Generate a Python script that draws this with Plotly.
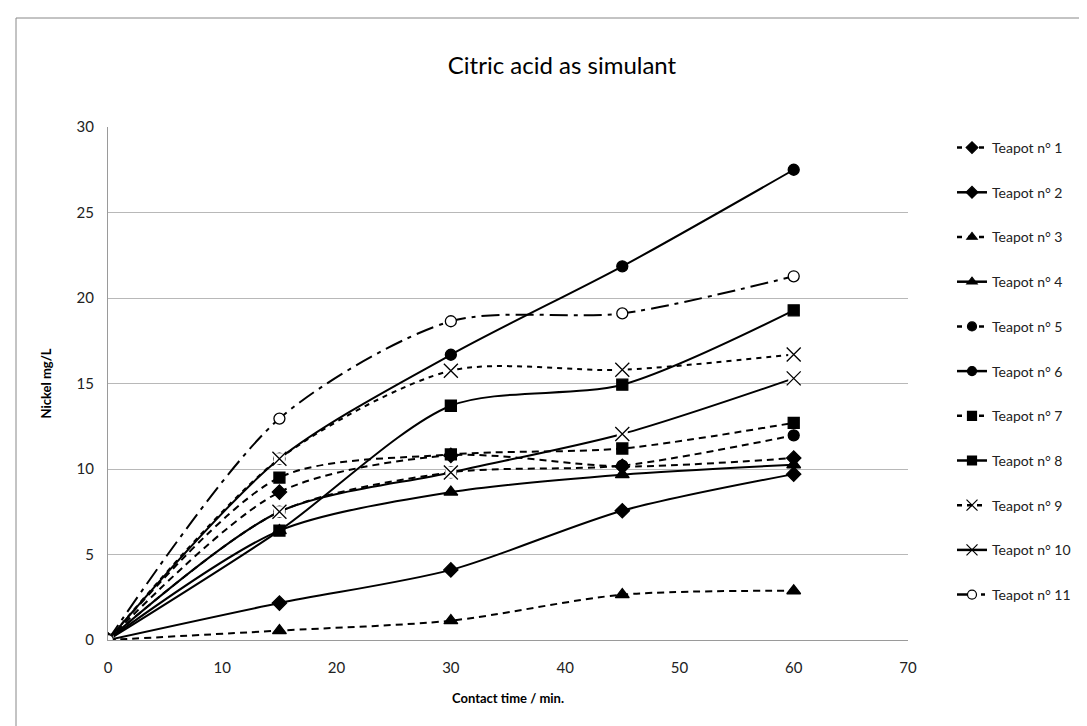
import plotly.graph_objects as go

contact_time = [0, 15, 30, 45, 60]
teapot_names = [f"Teapot n° {i}" for i in range(1, 12)]
teapot_1 = [0, 8.65, 10.8, 10.15, 10.64]
teapot_2 = [0, 2.16, 4.1, 7.56, 9.7]
teapot_3 = [0, 0.55, 1.13, 2.65, 2.88]
teapot_4 = [0, 6.4, 8.65, 9.67, 10.25]
teapot_5 = [0, 7.5, 9.8, 10.2, 11.97]
teapot_6 = [0, 10.6, 16.68, 21.85, 27.5]
teapot_7 = [0, 9.5, 10.85, 11.2, 12.7]
teapot_8 = [0, 6.4, 13.7, 14.93, 19.28]
teapot_9 = [0, 10.6, 15.75, 15.8, 16.7]
teapot_10 = [0, 7.5, 9.8, 12.05, 15.3]
teapot_11 = [0, 12.95, 18.64, 19.1, 21.27]
series = [teapot_1, teapot_2, teapot_3, teapot_4, teapot_5, teapot_6,
          teapot_7, teapot_8, teapot_9, teapot_10, teapot_11]

DASH = "7px,5px"
styles = [
    (DASH, "diamond", 11, "black"),
    ("solid", "diamond", 11, "black"),
    (DASH, "triangle-up", 12, "black"),
    ("solid", "triangle-up", 12, "black"),
    (DASH, "circle", 11, "black"),
    ("solid", "circle", 11, "black"),
    (DASH, "square", 11, "black"),
    ("solid", "square", 11, "black"),
    ("5px,5px", "x-thin-open", 14, "black"),
    ("solid", "x-thin-open", 14, "black"),
    ("18px,6px,4px,6px", "circle", 11, "white"),
]

fig = go.Figure()
for name, ys, (dash, sym, size, fill) in zip(teapot_names, series, styles):
    fig.add_trace(go.Scatter(
        x=contact_time, y=ys, name=name, mode="lines",
        legendgroup=name, showlegend=False, hoverinfo="skip",
        line=dict(color="black", width=2, dash=dash, shape="spline", smoothing=0.8),
    ))
    if sym == "x-thin-open":
        # Excel's X marker is drawn on an opaque white box
        fig.add_trace(go.Scatter(
            x=contact_time, y=ys, mode="markers", legendgroup=name,
            showlegend=False, hoverinfo="skip",
            marker=dict(symbol="square", size=11, color="white",
                        line=dict(width=0)),
        ))
    fig.add_trace(go.Scatter(
        x=contact_time, y=ys, name=name, mode="markers",
        legendgroup=name, showlegend=False,
        marker=dict(symbol=sym, size=size, color=fill,
                    line=dict(color="black", width=1.3)),
    ))
# legend entries (smaller symbols, as in the reference legend)
for name, (dash, sym, size, fill) in zip(teapot_names, styles):
    fig.add_trace(go.Scatter(
        x=[None], y=[None], name=name, mode="lines+markers",
        legendgroup=name, showlegend=True,
        line=dict(color="black", width=2.5, dash=dash if dash != DASH else "5px,6px"),
        marker=dict(symbol=sym, size=9 if sym != "x-thin-open" else 11, color=fill,
                    line=dict(color="black", width=1.2)),
    ))

W, H = 1087, 726
L, R, T, B = 100, 900, 119, 632
pw, ph = R - L, B - T

def px(xp):
    return (xp - L) / pw

def py(yp):
    return (B - yp) / ph

fig.update_layout(
    width=W, height=H,
    margin=dict(l=L, r=W - R, t=T, b=H - B),
    paper_bgcolor="white", plot_bgcolor="white",
    font=dict(family="Lato, Open Sans, sans-serif", color="#222", size=14),
    title=dict(text="Citric acid as simulant", x=554 / W, xanchor="center",
               y=1 - 58 / H, yanchor="middle", yref="container",
               font=dict(size=24, color="black")),
    xaxis=dict(range=[0, 70], dtick=10, showgrid=False, zeroline=False,
               showline=True, linecolor="#9a9a9a", linewidth=1,
               ticks="", ticklabelstandoff=14,
               tickfont=dict(size=15, color="#222"),
               title=dict(text="<b>Contact time / min.</b>", standoff=18,
                          font=dict(size=13, color="black"))),
    yaxis=dict(range=[0, 30], dtick=5, showgrid=True, gridcolor="#b8b8b8",
               gridwidth=1, zeroline=False, showline=True, linecolor="#9a9a9a",
               linewidth=1, ticks="", ticklabelstandoff=10,
               tickfont=dict(size=15, color="#222"),
               title=dict(text="<b>Nickel mg/L</b>", standoff=22,
                          font=dict(size=13, color="black"))),
    legend=dict(x=px(944), y=py(124), xanchor="left", yanchor="top",
                font=dict(size=14, color="#222"), tracegroupgap=23.5,
                bgcolor="rgba(0,0,0,0)"),
    shapes=[dict(type="rect", xref="paper", yref="paper",
                 x0=px(8), x1=px(1100), y0=py(760), y1=py(10),
                 line=dict(color="#888", width=1), fillcolor="rgba(0,0,0,0)",
                 layer="below")],
)

fig.write_html("out.html")
